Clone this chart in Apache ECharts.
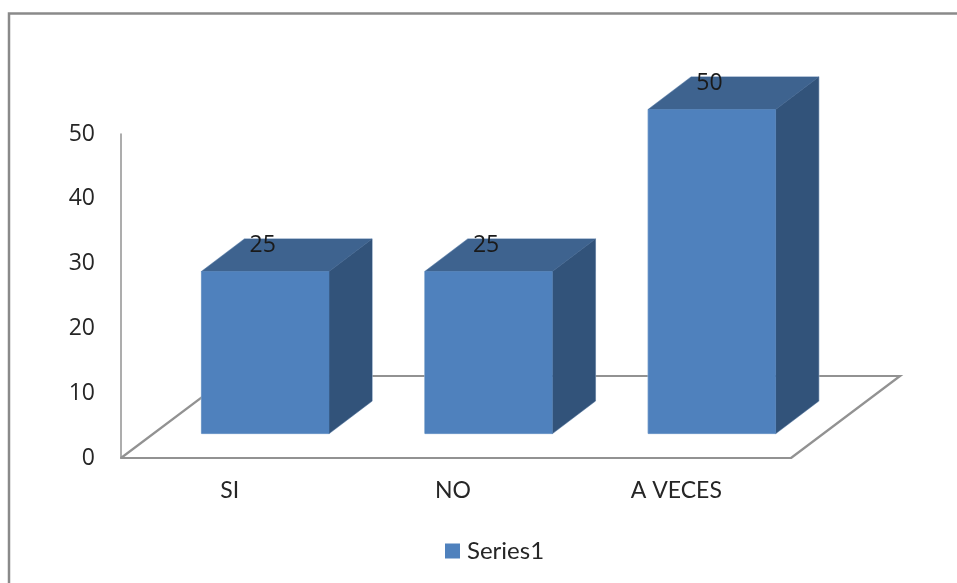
<!DOCTYPE html>
<html><head><meta charset="utf-8">
<style>html,body{margin:0;padding:0;background:#fff}#c{width:957px;height:583px}</style>
<script src="https://cdn.jsdelivr.net/npm/echarts@6/dist/echarts.min.js"></script>
</head><body><div id="c"></div>
<script>
const categories = ['SI', 'NO', 'A VECES'];
const seriesName = 'Series1';
const values = [25, 25, 50];
const yTicks = { min: 0, max: 50, interval: 10 };

const FONT = 'Lato, Carlito, "Open Sans", sans-serif';
const NUMFONT = '"Open Sans", Lato, sans-serif';
const TEXT = '#262626', AXIS = '#929292';
const FRONT = '#4F81BD', TOP = '#3E638F', SIDE = '#32537A', EDGE = 'rgba(190,208,230,0.75)';
// oblique projection of the 3D scene
const floorDX = 109, floorDY = -82;
const barDX = 43, barDY = -32.5, barW = 127.5, barShiftX = 32.6, barShiftY = -24.5;

function renderFloor(params, api) {
  const c = params.coordSys;
  const b = c.y + c.height;
  return {
    type: 'polyline', silent: true,
    shape: { points: [[c.x, b], [c.x + floorDX, b + floorDY], [c.x + c.width + floorDX, b + floorDY], [c.x + c.width, b]] },
    style: { fill: null, stroke: AXIS, lineWidth: 2.2 }
  };
}
function renderBar(params, api) {
  const base = api.coord([api.value(0), 0]);
  const top = api.coord([api.value(0), api.value(1)]);
  const l = base[0] + barShiftX - barW / 2, r = l + barW;
  const yb = base[1] + barShiftY, yt = top[1] + barShiftY;
  const poly = (pts, fill) => ({ type: 'polygon', shape: { points: pts }, style: { fill, stroke: fill, lineWidth: 0.5 } });
  return {
    type: 'group',
    children: [
      { type: 'polyline', shape: { points: [[l, yb], [l, yt], [l + barDX, yt + barDY], [r + barDX, yt + barDY], [r + barDX, yb + barDY], [r, yb], [l, yb]] },
        style: { fill: null, stroke: EDGE, lineWidth: 1.5 } },
      poly([[r, yb], [r + barDX, yb + barDY], [r + barDX, yt + barDY], [r, yt]], SIDE),
      poly([[l, yt], [r, yt], [r + barDX, yt + barDY], [l + barDX, yt + barDY]], TOP),
      poly([[l, yb], [r, yb], [r, yt], [l, yt]], FRONT),
      { type: 'text', x: l + barW / 2 - 2.5, y: yt - 26.5,
        style: { text: String(api.value(1)), font: '23px ' + NUMFONT, fill: '#1a1a1a', align: 'center', verticalAlign: 'middle' } }
    ]
  };
}

const chart = echarts.init(document.getElementById('c'), null, { renderer: 'canvas' });
chart.setOption({
  animation: false,
  backgroundColor: '#fff',
  graphic: [{ type: 'rect', z: -10, shape: { x: 9, y: 13.5, width: 1200, height: 800 }, style: { fill: '#fff', stroke: '#8a8a8a', lineWidth: 2.5 } }],
  grid: { left: 121, top: 134, width: 670, height: 324 },
  legend: {
    left: 440, top: 534, data: [seriesName], icon: 'rect', itemWidth: 15, itemHeight: 15, itemGap: 6,
    textStyle: { fontFamily: FONT, fontSize: 24, color: TEXT, padding: [0, 0, 0, 2] }
  },
  xAxis: {
    type: 'category', data: categories,
    axisLine: { lineStyle: { color: AXIS, width: 2.2 } }, axisTick: { show: false },
    axisLabel: { fontFamily: FONT, fontSize: 23, color: TEXT, margin: 21, padding: [0, 6, 0, 0] }
  },
  yAxis: {
    type: 'value', min: yTicks.min, max: yTicks.max, interval: yTicks.interval,
    axisLine: { show: true, lineStyle: { color: AXIS, width: 1.5 } }, axisTick: { show: false },
    splitLine: { show: false },
    axisLabel: { fontFamily: NUMFONT, fontSize: 23, color: TEXT, margin: 26, padding: [2, 0, 0, 0] }
  },
  series: [
    { type: 'custom', name: 'floor', silent: true, z: 1, coordinateSystem: 'cartesian2d', data: [[0, 0]], renderItem: renderFloor, clip: false },
    { type: 'custom', name: seriesName, z: 2, coordinateSystem: 'cartesian2d', itemStyle: { color: FRONT },
      encode: { x: 0, y: 1 }, data: values.map((v, i) => [i, v]), renderItem: renderBar, clip: false }
  ]
});
</script></body></html>
